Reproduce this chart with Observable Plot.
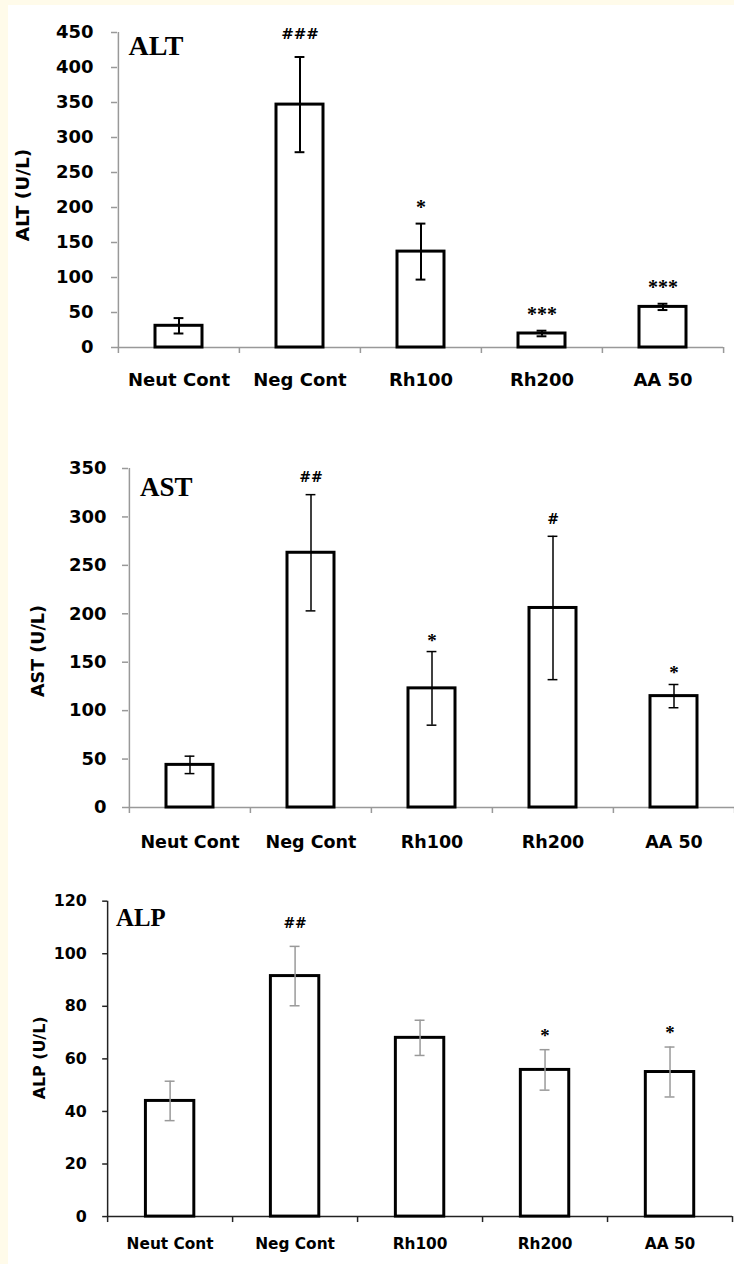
<!DOCTYPE html>
<html><head><meta charset="utf-8">
<script src="https://cdn.jsdelivr.net/npm/d3@7"></script>
<script src="https://cdn.jsdelivr.net/npm/@observablehq/plot@0.6"></script>
<style>
html,body{margin:0;padding:0;background:#fffbea;}
#wrap{position:relative;width:734px;height:1264px;overflow:hidden;background:#fffbea;}
#inner{position:absolute;left:8px;top:5px;right:0;bottom:0;background:#fff;}
.panel{position:absolute;left:0;}
</style></head><body>
<div id="wrap"><div id="inner"></div>
<div class="panel" id="p1" style="top:0px"></div>
<div class="panel" id="p2" style="top:400px"></div>
<div class="panel" id="p3" style="top:860px"></div>
</div>
<script>
const categories = ["Neut Cont", "Neg Cont", "Rh100", "Rh200", "AA 50"];

const altMean = [31, 347, 137, 20, 58];
const altErr = [11, 68, 40, 4, 4.5];
const altSig = ["", "###", "*", "***", "***"];
const altTicks = [0, 50, 100, 150, 200, 250, 300, 350, 400, 450];

const astMean = [44, 263, 123, 206, 115];
const astErr = [9, 60, 38, 74, 12];
const astSig = ["", "##", "*", "#", "*"];
const astTicks = [0, 50, 100, 150, 200, 250, 300, 350];

const alpMean = [44, 91.5, 68, 55.8, 55];
const alpErr = [7.5, 11.3, 6.7, 7.7, 9.5];
const alpSig = ["", "##", "", "*", "*"];
const alpTicks = [0, 20, 40, 60, 80, 100, 120];

function drawPanel(id, cfg) {
  const rows = categories.map((c, i) => ({cat: c, mean: cfg.mean[i], lo: cfg.mean[i] - cfg.err[i], hi: cfg.mean[i] + cfg.err[i], sig: cfg.sig[i]}));
  const bw = (cfg.width - cfg.ml - cfg.mr) / categories.length;
  const ymax = cfg.ticks[cfg.ticks.length - 1];
  const capInset = (bw - cfg.capW) / 2;
  const chart = Plot.plot({
    width: cfg.width, height: cfg.height,
    marginLeft: cfg.ml, marginRight: cfg.mr, marginTop: cfg.mt, marginBottom: cfg.mb,
    style: {background: "transparent", fontFamily: "DejaVu Sans", fontWeight: "bold", color: "black"},
    x: {domain: categories, padding: 0},
    y: {domain: [0, ymax]},
    marks: [
      Plot.ruleY([0], {stroke: cfg.axisColor, strokeWidth: cfg.axisWidth}),
      Plot.ruleX([categories[0]], {x: d => d, y1: 0, y2: ymax, dx: -bw / 2, stroke: cfg.axisColor, strokeWidth: cfg.axisWidth}),
      Plot.axisX({ticks: categories, tickSize: 6, tickFormat: () => "", dx: -bw / 2, stroke: cfg.axisColor, strokeWidth: cfg.axisWidth, label: null}),
      Plot.axisX({ticks: [categories[categories.length - 1]], tickSize: 6, tickFormat: () => "", dx: bw / 2, stroke: cfg.axisColor, strokeWidth: cfg.axisWidth, label: null}),
      Plot.axisX({ticks: categories, tickSize: 0, tickPadding: cfg.xPad, fontSize: cfg.xFs, label: null}),
      Plot.axisY({ticks: cfg.ticks, tickSize: cfg.yTick, tickPadding: cfg.yPad, fontSize: cfg.yFs, stroke: cfg.axisColor, strokeWidth: cfg.axisWidth, label: null, tickFormat: d => String(d)}),
      Plot.barY(rows, {x: "cat", y: "mean", fill: "white", stroke: "black", strokeWidth: cfg.barStroke, insetLeft: cfg.inset, insetRight: cfg.inset}),
      Plot.ruleX(rows, {x: "cat", y1: "lo", y2: "hi", stroke: cfg.errColor, strokeWidth: cfg.errWidth}),
      Plot.tickY(rows, {x: "cat", y: "lo", stroke: cfg.errColor, strokeWidth: cfg.errWidth, insetLeft: capInset, insetRight: capInset}),
      Plot.tickY(rows, {x: "cat", y: "hi", stroke: cfg.errColor, strokeWidth: cfg.errWidth, insetLeft: capInset, insetRight: capInset}),
      Plot.text([cfg.title], {text: d => d, frameAnchor: "top-left", textAnchor: "start", lineAnchor: "top", dx: cfg.titleDx, dy: cfg.titleDy, fontFamily: "Liberation Serif", fontWeight: "bold", fontSize: cfg.titleFs}),
      Plot.text([cfg.ylabel], {text: d => d, frameAnchor: "left", textAnchor: "middle", lineAnchor: "middle", rotate: -90, dx: cfg.ylDx, dy: cfg.ylDy, fontSize: cfg.ylFs}),
      Plot.text(rows.filter(d => d.sig.startsWith("#")), {x: "cat", y: "hi", text: "sig", lineAnchor: "bottom", dy: cfg.hashDy, fontFamily: "DejaVu Serif", fontWeight: "bold", fontSize: cfg.sigFs}),
      Plot.text(rows.filter(d => d.sig.startsWith("*")), {x: "cat", y: "hi", text: "sig", lineAnchor: "bottom", dy: cfg.starDy, fontFamily: "Liberation Serif", fontWeight: "bold", fontSize: cfg.sigFs + 5})
    ]
  });
  document.getElementById(id).appendChild(chart);
}

drawPanel("p1", {
  mean: altMean, err: altErr, sig: altSig, ticks: altTicks, title: "ALT", ylabel: "ALT (U/L)",
  width: 734, height: 400, ml: 117, mr: 11, mt: 32, mb: 53,
  axisColor: "#999", axisWidth: 1.5, errColor: "black", errWidth: 2, capW: 10, barStroke: 3, inset: 37,
  xPad: 26, xFs: 18, yTick: 6, yPad: 18, yFs: 18,
  titleDx: 11, titleDy: 3, titleFs: 28, ylDx: -94, ylDy: 5, ylFs: 18.5,
  hashDy: -18, starDy: -10, sigFs: 15
});
drawPanel("p2", {
  mean: astMean, err: astErr, sig: astSig, ticks: astTicks, title: "AST", ylabel: "AST (U/L)",
  width: 734, height: 460, ml: 128, mr: 0, mt: 68, mb: 53,
  axisColor: "#999", axisWidth: 1.5, errColor: "black", errWidth: 1.5, capW: 10, barStroke: 3, inset: 37,
  xPad: 28, xFs: 17.5, yTick: 6, yPad: 16, yFs: 18,
  titleDx: 11.5, titleDy: 8, titleFs: 27, ylDx: -90, ylDy: 13, ylFs: 17.5,
  hashDy: -12.5, starDy: -5, sigFs: 14
});
drawPanel("p3", {
  mean: alpMean, err: alpErr, sig: alpSig, ticks: alpTicks, title: "ALP", ylabel: "ALP (U/L)",
  width: 740, height: 404, ml: 108, mr: 2, mt: 41, mb: 45,
  axisColor: "#222", axisWidth: 1.5, errColor: "#999", errWidth: 1.5, capW: 10, barStroke: 3, inset: 38.6,
  xPad: 22, xFs: 15.5, yTick: 5, yPad: 16, yFs: 16,
  titleDx: 8.5, titleDy: 7.6, titleFs: 25, ylDx: -68, ylDy: -1, ylFs: 16,
  hashDy: -19, starDy: -8, sigFs: 14
});
</script>
</body></html>
